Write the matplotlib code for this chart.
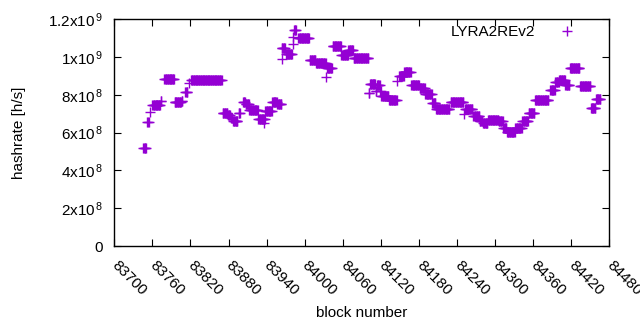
import matplotlib
matplotlib.use('Agg')
import matplotlib.pyplot as plt
import numpy as np

# data: runs of blocks with the same hashrate (x1e8 h/s)
seg_start = [83746, 83752, 83756, 83760, 83773, 83779, 83795, 83806, 83812, 83817,
             83821, 83871, 83879, 83884, 83887, 83896, 83903, 83907, 83913, 83927,
             83936, 83938, 83949, 83957, 83964, 83965, 83971, 83981, 83982, 83983,
             83990, 84008, 84018, 84034, 84035, 84044, 84058, 84069, 84077, 84101,
             84103, 84112, 84114, 84119, 84121, 84133, 84146, 84149, 84157, 84168,
             84181, 84190, 84201, 84207, 84230, 84251, 84253, 84266, 84276, 84281,
             84289, 84306, 84313, 84319, 84332, 84343, 84353, 84363, 84387, 84395,
             84401, 84411, 84418, 84434, 84451, 84459]
seg_end = [83750, 83754, 83756, 83772, 83774, 83794, 83805, 83807, 83815, 83817,
           83869, 83878, 83882, 83886, 83894, 83898, 83906, 83912, 83926, 83937,
           83936, 83948, 83956, 83963, 83969, 83965, 83980, 83981, 83982, 83986,
           84007, 84017, 84033, 84034, 84043, 84057, 84068, 84076, 84100, 84102,
           84111, 84113, 84118, 84120, 84132, 84145, 84146, 84156, 84167, 84180,
           84189, 84200, 84206, 84228, 84250, 84251, 84264, 84275, 84280, 84288,
           84305, 84312, 84318, 84331, 84342, 84352, 84362, 84384, 84394, 84400,
           84410, 84417, 84433, 84450, 84458, 84466]
seg_value = [5.20, 6.55, 7.11, 7.44, 7.69, 8.85, 7.62, 7.70, 8.14, 8.65,
             8.81, 7.06, 6.95, 6.75, 6.63, 7.02, 7.64, 7.50, 7.20, 6.71,
             6.50, 7.17, 7.64, 7.50, 10.47, 9.88, 10.15, 10.68, 11.08, 11.43,
             10.99, 9.82, 9.71, 8.96, 9.41, 10.57, 10.11, 10.37, 9.93, 8.10,
             8.58, 8.20, 8.50, 8.20, 7.94, 7.75, 8.73, 9.00, 9.23, 8.52,
             8.35, 8.05, 7.57, 7.23, 7.64, 6.99, 7.23, 6.88, 6.62, 6.51,
             6.69, 6.62, 6.26, 6.05, 6.26, 6.62, 7.04, 7.71, 8.26, 8.70,
             8.79, 8.52, 9.41, 8.47, 7.31, 7.78]

blocks = []
hashrate = []
for s, e, v in zip(seg_start, seg_end, seg_value):
    for b in range(s, e + 1):
        blocks.append(b)
        hashrate.append(v * 1e8)

xticks = list(range(83700, 84481, 60))
yticks = [0, 2e8, 4e8, 6e8, 8e8, 1e9, 1.2e9]
ylabels = ['0', '2x10$^{\\,8}$', '4x10$^{\\,8}$', '6x10$^{\\,8}$', '8x10$^{\\,8}$',
           '1x10$^{\\,9}$', '1.2x10$^{\\,9}$']

plt.rcParams['font.family'] = ['Liberation Sans', 'DejaVu Sans']
plt.rcParams['mathtext.fontset'] = 'custom'
plt.rcParams['mathtext.rm'] = 'Liberation Sans'
plt.rcParams['mathtext.it'] = 'Liberation Sans'
plt.rcParams['mathtext.default'] = 'regular'

fig = plt.figure(figsize=(6.4, 3.3), dpi=100)
ax = fig.add_axes([0.1786, 0.2545, 0.952 - 0.1786, 0.9415 - 0.2545])

ax.plot(blocks, hashrate, linestyle='none', marker='+', markersize=7,
        markeredgewidth=1.0, color='#9400d3', label='LYRA2REv2')

ax.set_xlim(83700, 84480)
ax.set_ylim(0, 1.2e9)
ax.set_xticks(xticks)
ax.set_xticklabels([str(t) for t in xticks], rotation=-45, ha='left', va='center',
                   rotation_mode='anchor', fontsize=11)
ax.set_yticks(yticks)
ax.set_yticklabels(ylabels, fontsize=11)
ax.tick_params(direction='in', length=5, width=0.8, top=True, right=True, pad=8)
ax.tick_params(axis='x', pad=12)
for sp in ax.spines.values():
    sp.set_linewidth(1.0)

ax.set_xlabel('block number', fontsize=11, labelpad=6)
ax.set_ylabel('hashrate [h/s]', fontsize=11, labelpad=16)

ax.legend(loc='upper right', frameon=False, markerfirst=False, fontsize=11,
          handlelength=2.0, handletextpad=1.1, borderpad=0, borderaxespad=0,
          bbox_to_anchor=(0.945, 0.975))

fig.savefig('out.png', dpi=100)
